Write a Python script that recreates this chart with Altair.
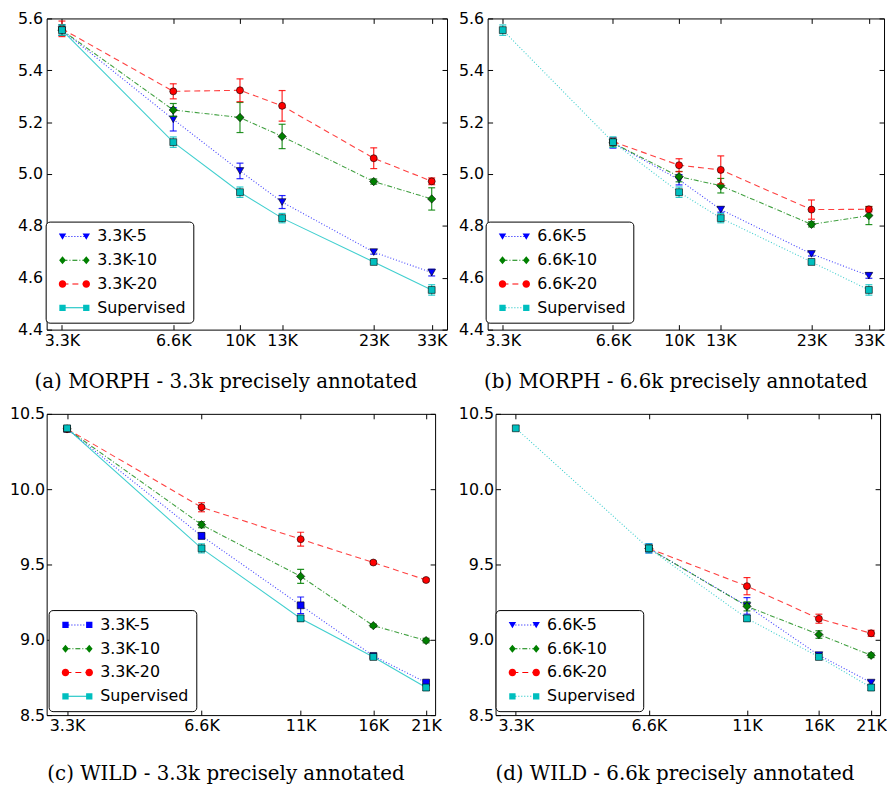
import altair as alt
import pandas as pd

# ---------------- data ----------------
MORPH_X = [3.3, 6.6, 10, 13, 23, 33]
WILD_X = [3.3, 6.6, 11, 16, 21]

MORPH_SUP = [5.555, 5.123, 4.930, 4.830, 4.661, 4.553]
MORPH_SUP_ERR = [0.020, 0.020, 0.020, 0.018, 0.006, 0.020]
WILD_SUP = [10.404, 9.607, 9.142, 8.886, 8.683]
WILD_SUP_ERR = [0.015, 0.030, 0.020, 0.015, 0.020]

# (a) MORPH - 3.3k
A_NAMES = ["3.3K-5", "3.3K-10", "3.3K-20", "Supervised"]
A_K5 = [5.555, 5.211, 5.012, 4.892, 4.699, 4.620]
A_K5_ERR = [0.020, 0.045, 0.030, 0.025, 0.008, 0.013]
A_K10 = [5.555, 5.247, 5.218, 5.145, 4.971, 4.904]
A_K10_ERR = [0.020, 0.025, 0.058, 0.047, 0.010, 0.043]
A_K20 = [5.560, 5.319, 5.323, 5.263, 5.061, 4.972]
A_K20_ERR = [0.030, 0.029, 0.044, 0.059, 0.040, 0.013]

# (b) MORPH - 6.6k
B_NAMES = ["6.6K-5", "6.6K-10", "6.6K-20", "Supervised"]
B_X = [6.6, 10, 13, 23, 33]
B_K5 = [5.120, 4.978, 4.863, 4.692, 4.608]
B_K5_ERR = [0.020, 0.020, 0.010, 0.008, 0.010]
B_K10 = [5.120, 4.990, 4.955, 4.806, 4.840]
B_K10_ERR = [0.015, 0.020, 0.028, 0.010, 0.035]
B_K20 = [5.125, 5.034, 5.016, 4.863, 4.864]
B_K20_ERR = [0.015, 0.025, 0.054, 0.037, 0.010]

# (c) WILD - 3.3k
C_NAMES = ["3.3K-5", "3.3K-10", "3.3K-20", "Supervised"]
C_K5 = [10.400, 9.690, 9.229, 8.893, 8.716]
C_K5_ERR = [0.015, 0.020, 0.055, 0.015, 0.010]
C_K10 = [10.400, 9.764, 9.421, 9.094, 8.995]
C_K10_ERR = [0.015, 0.020, 0.046, 0.010, 0.015]
C_K20 = [10.400, 9.880, 9.668, 9.513, 9.397]
C_K20_ERR = [0.015, 0.030, 0.046, 0.010, 0.010]

# (d) WILD - 6.6k
D_NAMES = ["6.6K-5", "6.6K-10", "6.6K-20", "Supervised"]
D_X = [6.6, 11, 16, 21]
D_K5 = [9.607, 9.225, 8.898, 8.716]
D_K5_ERR = [0.030, 0.055, 0.015, 0.012]
D_K10 = [9.607, 9.222, 9.035, 8.897]
D_K10_ERR = [0.020, 0.030, 0.025, 0.015]
D_K20 = [9.607, 9.356, 9.140, 9.043]
D_K20_ERR = [0.020, 0.057, 0.030, 0.020]

MORPH_YTICKS = [4.4, 4.6, 4.8, 5.0, 5.2, 5.4, 5.6]
WILD_YTICKS = [8.5, 9.0, 9.5, 10.0, 10.5]

# ---------------- styles ----------------
BLUE, GREEN, RED, CYAN = "#0000ff", "#008000", "#ff0000", "#00bfbf"
DOT = [1, 2]
DASHDOT = [5, 2, 1, 2]
DASH = [6, 4]
FONT = "DejaVu Sans"
TICK = 5

UNIT = 5.0  # px per unit of a custom legend symbol path (symbolSize 100)


def f(v):
    return f"{v:.3f}"


def marker_path(kind, cx, r=0.75):
    if kind == "triangle-down":
        return f"M{f(cx - r)},{f(-0.8 * r)}L{f(cx + r)},{f(-0.8 * r)}L{f(cx)},{f(0.9 * r)}Z"
    if kind == "diamond":
        return f"M{f(cx)},{f(-1.1 * r)}L{f(cx + 0.9 * r)},0L{f(cx)},{f(1.1 * r)}L{f(cx - 0.9 * r)},0Z"
    if kind == "circle":
        return (f"M{f(cx - r)},0A{f(r)},{f(r)},0,1,1,{f(cx + r)},0"
                f"A{f(r)},{f(r)},0,1,1,{f(cx - r)},0Z")
    s = 0.85 * r
    return f"M{f(cx - s)},{f(-s)}H{f(cx + s)}V{f(s)}H{f(cx - s)}Z"


def line_path(pattern, x0=-2.4, x1=2.4, h=0.11):
    def rect(a, b):
        return f"M{f(a)},{f(-h)}H{f(b)}V{f(h)}H{f(a)}Z"
    if not pattern:
        return rect(x0, x1)
    out, pos, i, on = [], x0, 0, True
    while pos < x1:
        ln = pattern[i % len(pattern)] / UNIT
        if on:
            out.append(rect(pos, min(pos + ln, x1)))
        pos += ln
        on = not on
        i += 1
    return "".join(out)


def legend_symbol(kind, pattern):
    return line_path(pattern) + marker_path(kind, -2.4) + marker_path(kind, 2.4)


SIZES = {"triangle-down": 60, "diamond": 70, "circle": 50, "square": 48}


def build_panel(p):
    rows = []
    for s in p["series"]:
        for x, y, e in zip(s["x"], s["y"], s["err"]):
            rows.append({"series": s["name"], "x": x, "y": y, "lo": y - e, "hi": y + e})
    df = pd.DataFrame(rows)
    names = [s["name"] for s in p["series"]]

    xscale = alt.Scale(type="log", domain=p["xdomain"], nice=False)
    yscale = alt.Scale(domain=p["ydomain"], nice=False, zero=False)
    base = alt.Chart(df)

    layers = [
        base.mark_point(opacity=0).encode(
            x=alt.X("x:Q", scale=xscale, title=None,
                    axis=alt.Axis(orient="bottom", values=p["xticks"], labelExpr="datum.value + 'K'",
                                  tickSize=TICK, offset=-TICK, labelPadding=3, title=None)),
            y=alt.Y("y:Q", scale=yscale, title=None,
                    axis=alt.Axis(orient="left", values=p["yticks"], format=".1f",
                                  tickSize=TICK, offset=-TICK, labelPadding=p["ypad"], title=None)),
        )
    ]

    for s in p["series"]:
        sub = base.transform_filter(alt.datum.series == s["name"])
        X = alt.X("x:Q", scale=xscale, axis=None)
        Y = alt.Y("y:Q", scale=yscale, axis=None)
        lkw = {"strokeDash": s["dash"]} if s["dash"] else {}
        layers.append(sub.mark_line(color=s["color"], strokeWidth=1.1, opacity=0.75, **lkw)
                      .encode(x=X, y=Y))
        layers.append(sub.mark_rule(color=s["color"], strokeWidth=1.2, opacity=0.85)
                      .encode(x=X, y=alt.Y("lo:Q", scale=yscale, axis=None), y2="hi:Q"))
        for fld in ("lo", "hi"):
            layers.append(sub.mark_tick(color=s["color"], orient="horizontal", size=7,
                                        thickness=1.2, opacity=0.85)
                          .encode(x=X, y=alt.Y(f"{fld}:Q", scale=yscale, axis=None)))
        layers.append(sub.mark_point(shape=s["shape"], filled=True, fill=s["color"], stroke="black",
                                     strokeWidth=0.6, size=SIZES[s["shape"]], opacity=1)
                      .encode(x=X, y=Y))

    leg = alt.Legend(orient="none", legendX=p["legend"][0], legendY=p["legend"][1], title=None,
                     fillColor="white", strokeColor="black", cornerRadius=4, padding=7,
                     labelFont=FONT, labelFontSize=16, labelColor="black", labelLimit=300,
                     symbolSize=100, symbolStrokeWidth=0, symbolOpacity=1,
                     symbolOffset=14, labelOffset=15, rowPadding=8)
    layers.append(
        base.mark_point(opacity=0, filled=True).encode(
            x=alt.X("x:Q", scale=xscale, title=None,
                    axis=alt.Axis(orient="top", values=p["xticks"], labels=False, tickSize=TICK,
                                  offset=-TICK, title=None)),
            y=alt.Y("y:Q", scale=yscale, title=None,
                    axis=alt.Axis(orient="right", values=p["yticks"], labels=False, tickSize=TICK,
                                  offset=-TICK, title=None)),
            fill=alt.Fill("series:N", scale=alt.Scale(domain=names, range=[s["color"] for s in p["series"]]),
                          legend=leg),
            shape=alt.Shape("series:N", scale=alt.Scale(domain=names,
                                                        range=[legend_symbol(s["shape"], s["dash"]) for s in p["series"]]),
                            legend=leg),
        )
    )

    return alt.layer(*layers).resolve_axis(x="independent", y="independent").properties(
        width=p["w"], height=p["h"],
        title=alt.Title(p["caption"], orient="bottom", font="DejaVu Serif", fontSize=20,
                        fontWeight="normal", color="black", offset=p["toff"], dx=p["dx"]),
    )


def series(name, xs, ys, errs, color, dash, shape):
    return {"name": name, "x": xs, "y": ys, "err": errs, "color": color, "dash": dash, "shape": shape}


PANELS = [
    {"caption": "(a) MORPH - 3.3k precisely annotated", "xticks": MORPH_X, "yticks": MORPH_YTICKS,
     "xdomain": [3.0, 36.3], "ydomain": [4.4, 5.6], "w": 404, "h": 314, "ypad": 4, "toff": 24, "dx": -21,
     "legend": [-1, 205],
     "series": [series(A_NAMES[0], MORPH_X, A_K5, A_K5_ERR, BLUE, DOT, "triangle-down"),
                series(A_NAMES[1], MORPH_X, A_K10, A_K10_ERR, GREEN, DASHDOT, "diamond"),
                series(A_NAMES[2], MORPH_X, A_K20, A_K20_ERR, RED, DASH, "circle"),
                series(A_NAMES[3], MORPH_X, MORPH_SUP, MORPH_SUP_ERR, CYAN, None, "square")]},
    {"caption": "(b) MORPH - 6.6k precisely annotated", "xticks": MORPH_X, "yticks": MORPH_YTICKS,
     "xdomain": [3.0, 36.3], "ydomain": [4.4, 5.6], "w": 400, "h": 314, "ypad": 4, "toff": 24, "dx": -10,
     "legend": [-2, 205],
     "series": [series(B_NAMES[0], B_X, B_K5, B_K5_ERR, BLUE, DOT, "triangle-down"),
                series(B_NAMES[1], B_X, B_K10, B_K10_ERR, GREEN, DASHDOT, "diamond"),
                series(B_NAMES[2], B_X, B_K20, B_K20_ERR, RED, DASH, "circle"),
                series(B_NAMES[3], MORPH_X, MORPH_SUP, MORPH_SUP_ERR, CYAN, DOT, "square")]},
    {"caption": "(c) WILD - 3.3k precisely annotated", "xticks": WILD_X, "yticks": WILD_YTICKS,
     "xdomain": [2.97, 22.0], "ydomain": [8.5, 10.5], "w": 392, "h": 304, "ypad": 2, "toff": 30, "dx": -15,
     "legend": [2, 198],
     "series": [series(C_NAMES[0], WILD_X, C_K5, C_K5_ERR, BLUE, DOT, "square"),
                series(C_NAMES[1], WILD_X, C_K10, C_K10_ERR, GREEN, DASHDOT, "diamond"),
                series(C_NAMES[2], WILD_X, C_K20, C_K20_ERR, RED, DASH, "circle"),
                series(C_NAMES[3], WILD_X, WILD_SUP, WILD_SUP_ERR, CYAN, None, "square")]},
    {"caption": "(d) WILD - 6.6k precisely annotated", "xticks": WILD_X, "yticks": WILD_YTICKS,
     "xdomain": [2.97, 22.0], "ydomain": [8.5, 10.5], "w": 388, "h": 304, "ypad": 2, "toff": 30, "dx": -13,
     "legend": [0, 198],
     "series": [series(D_NAMES[0], D_X, D_K5, D_K5_ERR, BLUE, DOT, "triangle-down"),
                series(D_NAMES[1], D_X, D_K10, D_K10_ERR, GREEN, DASHDOT, "diamond"),
                series(D_NAMES[2], D_X, D_K20, D_K20_ERR, RED, DASH, "circle"),
                series(D_NAMES[3], WILD_X, WILD_SUP, WILD_SUP_ERR, CYAN, DOT, "square")]},
]


a, b, c, d = [build_panel(p) for p in PANELS]
ind = dict(x="independent", y="independent", fill="independent", shape="independent")
row1 = alt.hconcat(a, b, spacing=10).resolve_scale(**ind).resolve_legend(fill="independent", shape="independent")
row2 = alt.hconcat(c, d, spacing=15).resolve_scale(**ind).resolve_legend(fill="independent", shape="independent")
chart = (alt.vconcat(row1, row2, spacing=12)
         .resolve_scale(**ind).resolve_legend(fill="independent", shape="independent")
         .properties(padding={"top": -2, "left": 0, "right": 0, "bottom": 0})
         .configure_view(stroke="black", strokeWidth=1)
         .configure_axis(labelFont=FONT, labelFontSize=16, labelColor="black",
                         tickColor="black", tickWidth=1, domain=False, grid=False))

chart.save("out.html", embed_options={"renderer": "svg", "actions": False})
